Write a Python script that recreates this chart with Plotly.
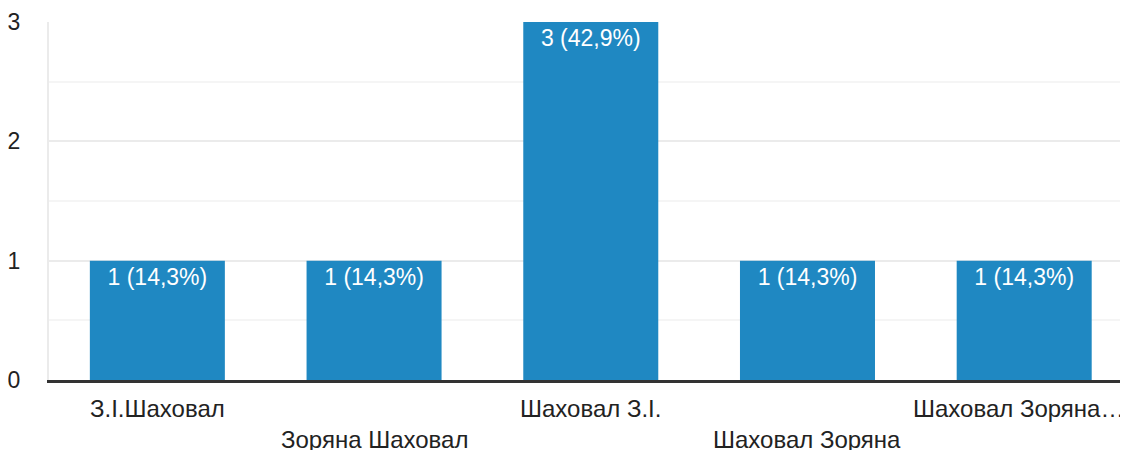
import plotly.graph_objects as go

categories = ["З.І.Шаховал", "Зоряна Шаховал", "Шаховал З.І.", "Шаховал Зоряна", "Шаховал Зоряна…"]
counts = [1, 1, 3, 1, 1]
percent_labels = ["14,3%", "14,3%", "42,9%", "14,3%", "14,3%"]
y_ticks = [0, 1, 2, 3]

bar_text = [f"{c} ({p})" for c, p in zip(counts, percent_labels)]
xs = list(range(len(categories)))

FONT = "Liberation Sans, Arial"

fig = go.Figure(go.Bar(
    x=xs, y=counts, text=bar_text, textposition="inside", insidetextanchor="end",
    textfont=dict(color="white", size=23, family=FONT),
    marker=dict(color="#1f88c2", line=dict(width=0)), width=0.623,
    cliponaxis=False, hoverinfo="skip"))

annotations = []
last = len(categories) - 1
for i, cat in enumerate(categories):
    annotations.append(dict(x=i, y=0, xref="x", yref="y", text=cat, showarrow=False,
                            yanchor="middle", xanchor="center",
                            yshift=-28 if i % 2 == 0 else -59,
                            xshift=-6 if i == last else 0,
                            font=dict(size=24, color="#222222", family=FONT)))

fig.update_layout(
    width=1120, height=442, margin=dict(l=41, r=0, t=14, b=70),
    plot_bgcolor="white", paper_bgcolor="white", showlegend=False,
    annotations=annotations,
    font=dict(family=FONT, size=23, color="#222222"),
    xaxis=dict(range=[-0.5, 4.479], showticklabels=False, showgrid=False, zeroline=False,
               showline=True, linecolor="#333333", linewidth=3, fixedrange=True),
    yaxis=dict(range=[0, 3], tickvals=y_ticks, showgrid=True, gridcolor="#ebebeb", gridwidth=2,
               zeroline=False, showline=True, linecolor="#ebebeb", linewidth=2,
               ticklabelstandoff=22, tickfont=dict(size=23, color="#222222"),
               minor=dict(dtick=0.5, showgrid=True, gridcolor="#f5f5f5", gridwidth=2)),
)

fig.write_html("out.html")
